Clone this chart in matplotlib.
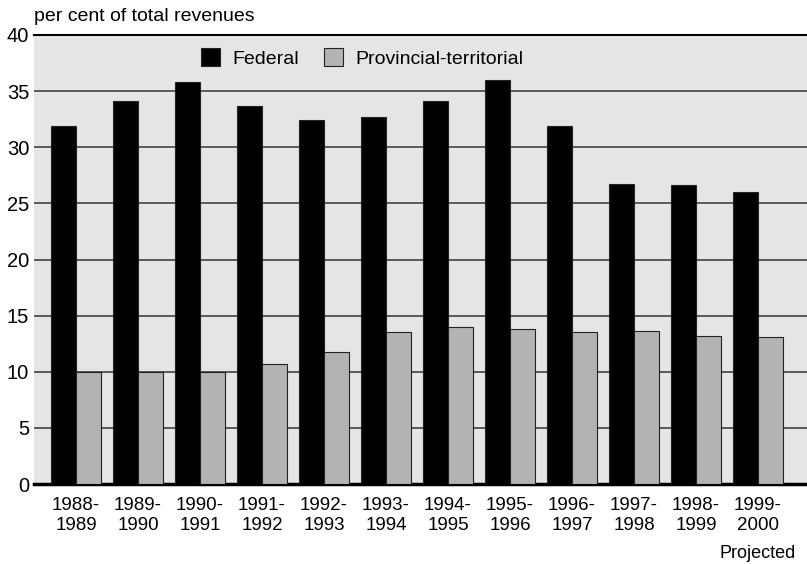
import matplotlib
matplotlib.use("Agg")
import matplotlib.pyplot as plt
import numpy as np

plt.rcParams['font.family'] = ['Liberation Sans', 'DejaVu Sans']

categories = ["1988-\n1989", "1989-\n1990", "1990-\n1991", "1991-\n1992", "1992-\n1993",
              "1993-\n1994", "1994-\n1995", "1995-\n1996", "1996-\n1997", "1997-\n1998",
              "1998-\n1999", "1999-\n2000"]
federal = [31.9, 34.1, 35.8, 33.7, 32.4, 32.7, 34.1, 36.0, 31.9, 26.7, 26.6, 26.0]
provincial = [10.0, 10.0, 10.0, 10.7, 11.8, 13.5, 14.0, 13.8, 13.5, 13.6, 13.2, 13.1]
yticks = [0, 5, 10, 15, 20, 25, 30, 35, 40]

W, H = 807, 564
fig = plt.figure(figsize=(W / 100, H / 100), dpi=100)
ax = fig.add_axes([34 / W, (H - 484) / H, (W - 34) / W, (484 - 35) / H])
ax.set_facecolor('#e5e5e5')

x = np.arange(len(categories))
bw = 0.4
ax.bar(x - 0.2, federal, width=bw, color='black', edgecolor='#222222', linewidth=0.8,
       label='Federal', zorder=3)
ax.bar(x + 0.2, provincial, width=bw, color='#b3b3b3', edgecolor='#222222', linewidth=0.8,
       label='Provincial-territorial', zorder=3)

ax.set_xlim(-0.677, 11.79)
ax.set_ylim(0, 40)
ax.set_yticks(yticks)
ax.set_yticklabels([str(v) for v in yticks], fontsize=14.5)
ax.set_xticks(x)
ax.set_xticklabels(categories, fontsize=13.5, linespacing=1.18)
ax.tick_params(axis='y', length=0, pad=3.5)
ax.tick_params(axis='x', length=0, pad=9.5)

ax.yaxis.grid(True, color='#333333', linewidth=1.1)
ax.set_axisbelow(True)
for s in ['left', 'right']:
    ax.spines[s].set_visible(False)
ax.spines['top'].set_color('black')
ax.spines['top'].set_linewidth(1.5)
ax.spines['bottom'].set_color('black')
ax.spines['bottom'].set_linewidth(2.5)

leg = ax.legend(loc='center left', bbox_to_anchor=((201 - 34) / (W - 34), (484 - 58) / 449),
                ncol=2, frameon=False, borderpad=0, borderaxespad=0,
                fontsize=14, handlelength=1.0, handleheight=1.0, columnspacing=1.3,
                handletextpad=0.6)

fig.text(34 / W, 1 - 21 / H, 'per cent of total revenues', fontsize=14, va='baseline', ha='left')
fig.text(796 / W, 1 - 558 / H, 'Projected', fontsize=13, va='baseline', ha='right')

fig.savefig('out.png', dpi=100)
